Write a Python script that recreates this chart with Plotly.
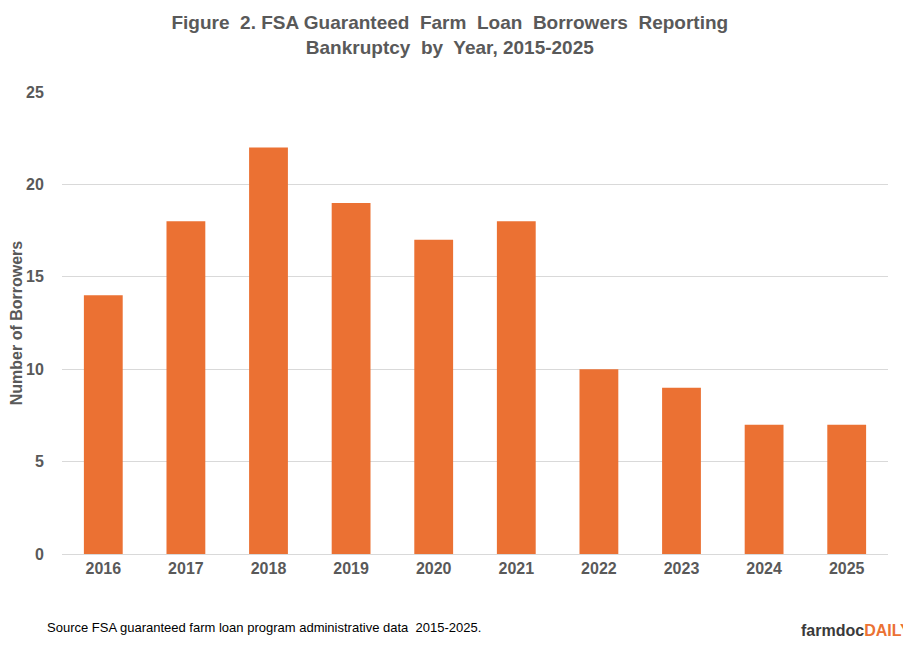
"""FSA guaranteed farm loan borrowers reporting bankruptcy"""

import plotly.graph_objects as go

# data
years = ["2016", "2017", "2018", "2019", "2020", "2021", "2022", "2023", "2024", "2025"]
borrowers = [14, 18, 22, 19, 17, 18, 10, 9, 7, 7]
y_ticks = [0, 5, 10, 15, 20, 25]

GREY = "#595959"
ORANGE = "#EB7133"

fig = go.Figure()
fig.add_trace(go.Bar(x=years, y=borrowers, marker_color=ORANGE, marker_line_width=0))

fig.update_layout(
    width=911, height=662,
    paper_bgcolor="white", plot_bgcolor="white",
    font=dict(family="Liberation Sans, Arial", color=GREY),
    title=dict(
        text="<b>Figure  2. FSA Guaranteed  Farm  Loan  Borrowers  Reporting<br>Bankruptcy  by  Year, 2015-2025</b>",
        x=0.485, xanchor="center", y=0.968, yanchor="top",
        font=dict(size=19, color=GREY),
    ),
    margin=dict(l=54, r=31, t=84, b=116, autoexpand=False),
    bargap=0.53,
    showlegend=False,
    xaxis=dict(
        showline=True, linecolor="#d9d9d9", linewidth=1,
        tickfont=dict(size=16, color=GREY, weight="bold"), ticks="",
    ),
    yaxis=dict(
        range=[0, 25], tickvals=y_ticks, showgrid=True, gridcolor="#d9d9d9",
        zeroline=False, tickfont=dict(size=16, color=GREY, weight="bold"),
        ticklen=14, tickcolor="white", ticks="outside",
        title=dict(text="<b>Number of Borrowers</b>", font=dict(size=16, color=GREY), standoff=6),
    ),
)

fig.add_annotation(
    text="Source FSA guaranteed farm loan program administrative data  2015-2025.",
    xref="paper", yref="paper", x=-0.02, y=-0.16, xanchor="left", yanchor="middle",
    showarrow=False, font=dict(size=13, color="black"),
)
fig.add_annotation(
    text="<b><span style='color:#3a3a3a'>farmdoc</span><span style='color:#EB7133'>DAILY</span></b>",
    xref="paper", yref="paper", x=1.03, y=-0.165, xanchor="right", yanchor="middle",
    showarrow=False, font=dict(size=16),
)

fig.write_html("out.html")
